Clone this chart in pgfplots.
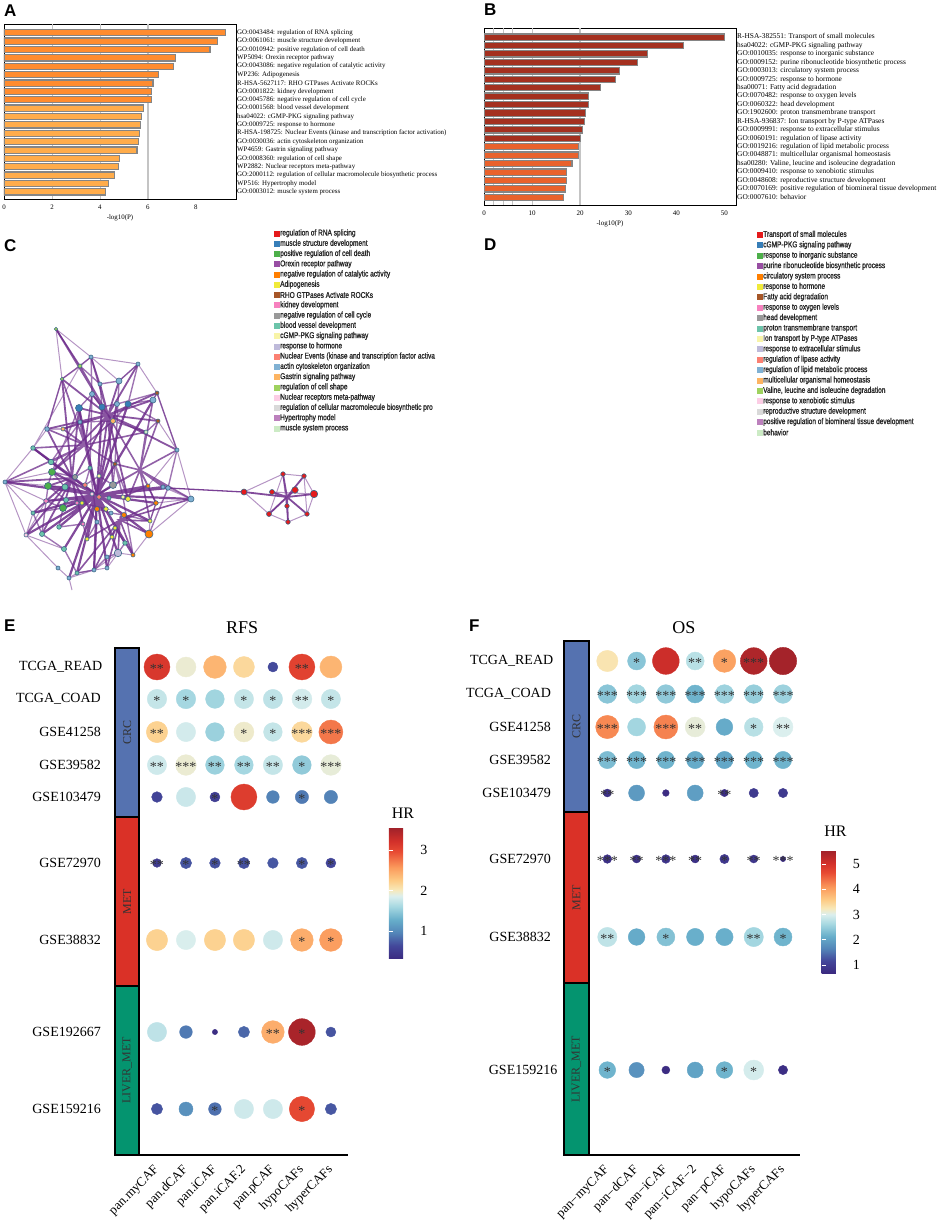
\documentclass[border=0pt]{standalone}
\usepackage{pgfplots}
\pgfplotsset{compat=1.18}
\usepackage{fontspec}
\setmainfont{Liberation Serif}
\newfontfamily\sansfont{Liberation Sans}
\newfontfamily\narrowfont[FakeStretch=0.78, FakeBold=1.2]{Liberation Sans}
\newcommand\fsz[1]{\fontsize{#1}{#1}\selectfont}

\definecolor{barAa}{HTML}{FF8C2F}
\definecolor{barAb}{HTML}{FFAC4B}
\definecolor{barBa}{HTML}{A4301F}
\definecolor{barBb}{HTML}{E9622C}
\definecolor{barline}{HTML}{858585}
\definecolor{gridc}{HTML}{C4C4C4}
\definecolor{edgep}{HTML}{6C2B8A}
\definecolor{nodeedge}{HTML}{3D6A88}
\definecolor{crc}{HTML}{5572B0}
\definecolor{met}{HTML}{DA3127}
\definecolor{liver}{HTML}{04946F}
\definecolor{startxt}{HTML}{333333}
\definecolor{legtext}{HTML}{282828}
% term colours (Set1 + Set3)
\definecolor{t0}{HTML}{E41A1C}
\definecolor{t1}{HTML}{377EB8}
\definecolor{t2}{HTML}{4DAF4A}
\definecolor{t3}{HTML}{984EA3}
\definecolor{t4}{HTML}{FF7F00}
\definecolor{t5}{HTML}{F0EA3A}
\definecolor{t6}{HTML}{A65628}
\definecolor{t7}{HTML}{F781BF}
\definecolor{t8}{HTML}{999999}
\definecolor{t9}{HTML}{6CC4AA}
\definecolor{t10}{HTML}{F8F4A8}
\definecolor{t11}{HTML}{BEBADA}
\definecolor{t12}{HTML}{FB8072}
\definecolor{t13}{HTML}{80B1D3}
\definecolor{t14}{HTML}{FDB462}
\definecolor{t15}{HTML}{9ED25E}
\definecolor{t16}{HTML}{FCCDE5}
\definecolor{t17}{HTML}{D9D9D9}
\definecolor{t18}{HTML}{BC80BD}
\definecolor{t19}{HTML}{CCEBC5}

\pgfplotsset{
  /pgf/number format/assume math mode=true,
  colormap={hrmap}{[1pt]
    rgb255(0pt)=(59,42,128) rgb255(10pt)=(67,71,154) rgb255(20pt)=(83,133,184)
    rgb255(30pt)=(103,174,202) rgb255(40pt)=(166,216,225) rgb255(48pt)=(220,239,238)
    rgb255(53pt)=(248,232,184) rgb255(60pt)=(253,203,133) rgb255(70pt)=(251,154,92)
    rgb255(82pt)=(232,75,51) rgb255(90pt)=(210,48,42) rgb255(100pt)=(161,34,42)},
  colormap={terms}{color=(t0) color=(t1) color=(t2) color=(t3) color=(t4)
    color=(t5) color=(t6) color=(t7) color=(t8) color=(t9) color=(t10)
    color=(t11) color=(t12) color=(t13) color=(t14) color=(t15) color=(t16)
    color=(t17) color=(t18) color=(t19)},
  barterm/.style={
    scale only axis, anchor=north west, y dir=reverse,
    axis line style={line width=0.9pt},
    ytick={1,...,20}, yticklabel pos=right, major tick length=0pt,
    yticklabel style={inner sep=1pt},
    xticklabel style={inner sep=1pt, yshift=-5pt},
    xlabel={-log10(P)},
  },
  dotpanel/.style={
    scale only axis, anchor=north west, clip=false,
    axis x line*=bottom, axis y line=none, axis line style={line width=1.1pt},
    xtick={0,...,6}, ytick=\empty, major tick length=0pt,
    xticklabel style={font=\fsz{13}, rotate=45, anchor=east, inner sep=0pt},
    xticklabel shift=13pt,
    colormap name=hrmap, colorbar,
  },
  cbar/.style={
    anchor=north west, scale only axis, axis x line=box, axis y line=box,
    axis line style={draw=none}, yticklabel style={font=\fsz{14}},
    major tick length=4pt, tick align=inside, ytick pos=both, yticklabel pos=right,
    tick style={white, line width=0.8pt},
    title={HR}, title style={at={(0.5,1)}, anchor=south, font=\fsz{16}},
  },
  termaxis/.style={scale only axis, anchor=north west, y dir=reverse, hide axis, clip=false,
    colormap name=terms, point meta min=0, point meta max=19},
  rowlab/.style={draw=none, nodes near coords, point meta=explicit symbolic,
    every node near coord/.style={anchor=east, inner sep=0pt, font=\fsz{14}}},
  grplab/.style={draw=none, nodes near coords, point meta=explicit symbolic,
    every node near coord/.style={anchor=center, rotate=90, inner sep=0pt, font=\fsz{12}, text=black!80}},
  dots/.style={scatter, only marks, mark=*, point meta=explicit,
    scatter/use mapped color={draw=mapped color, fill=mapped color},
    visualization depends on={\thisrow{d}/2 \as \rad},
    scatter/@pre marker code/.append style={/tikz/mark size=\rad}},
  stars/.style={draw=none, nodes near coords, point meta=explicit symbolic,
    every node near coord/.style={anchor=base, yshift=-6pt, inner sep=0pt, font=\fsz{14}, text=startxt}},
  legsq/.style={scatter, only marks, mark=square*, mark size=2.5pt, point meta=explicit,
    scatter/use mapped color={draw=mapped color, fill=mapped color}},
  legtx/.style={draw=none, nodes near coords, point meta=explicit symbolic,
    every node near coord/.style={anchor=west, inner sep=0pt, font=\narrowfont\fsz{8.4}, text=legtext}},
}

\begin{document}
\begin{tikzpicture}[x=1pt,y=1pt]
\useasboundingbox (0,0) rectangle (941,-1228);

\node[anchor=north west, inner sep=0pt, font=\sansfont\bfseries\fsz{17}] at (4,-5) {A};
\node[anchor=north west, inner sep=0pt, font=\sansfont\bfseries\fsz{17}] at (484,-4) {B};
\node[anchor=north west, inner sep=0pt, font=\sansfont\bfseries\fsz{17}] at (4,-239) {C};
\node[anchor=north west, inner sep=0pt, font=\sansfont\bfseries\fsz{17}] at (484,-239) {D};
\node[anchor=north west, inner sep=0pt, font=\sansfont\bfseries\fsz{17}] at (4,-620) {E};
\node[anchor=north west, inner sep=0pt, font=\sansfont\bfseries\fsz{17}] at (469,-620) {F};

% ---------------- A: enrichment bars ----------------
\begin{axis}[barterm,
  at={(4pt,-24pt)}, width=232pt, height=175pt,
  xmin=0, xmax=9.67, ymin=-0.05, ymax=20.85,
  xtick={0,2,4,6,8},
  tick label style={font=\fsz{6.9}}, xlabel style={font=\fsz{6.9}},
  yticklabels={GO:0043484: regulation of RNA splicing,
    GO:0061061: muscle structure development,
    GO:0010942: positive regulation of cell death,
    WP5094: Orexin receptor pathway,
    GO:0043086: negative regulation of catalytic activity,
    WP236: Adipogenesis,
    R-HSA-5627117: RHO GTPases Activate ROCKs,
    GO:0001822: kidney development,
    GO:0045786: negative regulation of cell cycle,
    GO:0001568: blood vessel development,
    hsa04022: cGMP-PKG signaling pathway,
    GO:0009725: response to hormone,
    R-HSA-198725: Nuclear Events (kinase and transcription factor activation),
    GO:0030036: actin cytoskeleton organization,
    WP4659: Gastrin signaling pathway,
    GO:0008360: regulation of cell shape,
    WP2882: Nuclear receptors meta-pathway,
    GO:2000112: regulation of cellular macromolecule biosynthetic process,
    WP516: Hypertrophy model,
    GO:0003012: muscle system process},
]
\addplot[gridc, line width=0.8pt] coordinates {(2,-0.05) (2,20.85)};
\addplot[gridc, line width=0.8pt] coordinates {(4,-0.05) (4,20.85)};
\addplot[gridc, line width=1.8pt] coordinates {(6,-0.05) (6,20.85)};
\addplot[xbar, bar shift=0pt, bar width=0.74, fill=barAa, draw=barline, line width=1.2pt]
  coordinates {(9.22,1) (8.90,2) (8.59,3) (7.15,4) (7.08,5) (6.43,6) (6.21,7) (6.15,8) (6.14,9)};
\addplot[xbar, bar shift=0pt, bar width=0.74, fill=barAb, draw=barline, line width=1.2pt]
  coordinates {(5.83,10) (5.72,11) (5.69,12) (5.65,13) (5.59,14) (5.54,15) (4.81,16) (4.78,17) (4.59,18) (4.34,19) (4.24,20)};
\end{axis}

% ---------------- B: enrichment bars ----------------
\begin{axis}[barterm,
  at={(484pt,-28pt)}, width=252pt, height=177pt,
  xmin=0, xmax=52.4, ymin=-0.07, ymax=20.9,
  xtick={0,10,20,30,40,50},
  tick label style={font=\fsz{7}}, yticklabel style={font=\fsz{7.4}}, xlabel style={font=\fsz{7}},
  yticklabels={R-HSA-382551: Transport of small molecules,
    hsa04022: cGMP-PKG signaling pathway,
    GO:0010035: response to inorganic substance,
    GO:0009152: purine ribonucleotide biosynthetic process,
    GO:0003013: circulatory system process,
    GO:0009725: response to hormone,
    hsa00071: Fatty acid degradation,
    GO:0070482: response to oxygen levels,
    GO:0060322: head development,
    GO:1902600: proton transmembrane transport,
    R-HSA-936837: Ion transport by P-type ATPases,
    GO:0009991: response to extracellular stimulus,
    GO:0060191: regulation of lipase activity,
    GO:0019216: regulation of lipid metabolic process,
    GO:0048871: multicellular organismal homeostasis,
    {hsa00280: Valine, leucine and isoleucine degradation},
    GO:0009410: response to xenobiotic stimulus,
    GO:0048608: reproductive structure development,
    GO:0070169: positive regulation of biomineral tissue development,
    GO:0007610: behavior},
]
\addplot[gridc, line width=0.8pt] coordinates {(2,-0.07) (2,20.9)};
\addplot[gridc, line width=0.8pt] coordinates {(4,-0.07) (4,20.9)};
\addplot[gridc, line width=0.8pt] coordinates {(6,-0.07) (6,20.9)};
\addplot[gridc, line width=0.8pt] coordinates {(10,-0.07) (10,20.9)};
\addplot[gridc, line width=1.8pt] coordinates {(20,-0.07) (20,20.9)};
\addplot[xbar, bar shift=0pt, bar width=0.74, fill=barBa, draw=barline, line width=1.2pt]
  coordinates {(50.0,1) (41.5,2) (34.0,3) (31.9,4) (28.1,5) (27.4,6) (24.2,7) (21.8,8) (21.7,9) (21.1,10) (20.9,11) (20.5,12) (20.1,13)};
\addplot[xbar, bar shift=0pt, bar width=0.74, fill=barBb, draw=barline, line width=1.2pt]
  coordinates {(19.7,14) (19.6,15) (18.3,16) (17.2,17) (17.1,18) (17.0,19) (16.5,20)};
\end{axis}

% ---------------- C: network + legend ----------------
\begin{axis}[termaxis, at={(0pt,-225pt)}, width=470pt, height=365pt,
  xmin=0, xmax=470, ymin=225, ymax=590, unbounded coords=jump]
% faint outer edges
\addplot[edgep, line width=1.0pt, opacity=0.5] coordinates {
  (5,482) (33,448) (47,429) (62,379) (56,329) (91,357) (138,364) (157,393) (177,450) (191,499)
  (149,534) (133,555) (118,553) (94,570) (69,578) (58,568) (26,535) (5,482) (nan,nan)
  (56,329) (80,366) (nan,nan) (91,357) (62,379) (nan,nan) (138,364) (119,381) (nan,nan)
  (177,450) (148,486) (nan,nan) (5,482) (52,472) (nan,nan) (26,535) (64,549) (nan,nan)
  (33,448) (80,366) (nan,nan) (177,450) (158,421) (nan,nan) (191,499) (163,487) (nan,nan)
  (5,482) (46,501) (26,535) (nan,nan) (56,329) (62,379) (nan,nan) (138,364) (157,393) (153,400) (nan,nan)
  (191,499) (156,503) (150,521) (149,534) (nan,nan) (69,578) (77,573) (94,570) (107,568) (118,553)
  (nan,nan) (33,448) (5,482) (33,513) (26,535) (nan,nan) (91,357) (119,381) (138,364) (nan,nan)
  (69,578) (72,590) (nan,nan) (177,450) (191,499) (168,488) (nan,nan) (5,482) (65,487)};
% web of neighbour links
\addplot[edgep, line width=1.4pt, opacity=0.65] coordinates {
  (33,513) (63,508) (46,501) (66,500) (48,486) (65,487) (52,472) (75,477) (90,468) (85,485)
  (99,476) (113,485) (115,464) (128,499) (123,497) (148,486) (156,503) (150,521) (124,515) (111,513)
  (97,509) (106,509) (82,503) (77,503) (63,508) (59,527) (83,524) (87,539) (97,522) (112,537)
  (115,528) (125,543) (118,553) (107,557) (94,570) (77,573) (64,549) (42,534) (33,513) (nan,nan)
  (56,329) (80,366) (91,357) (100,384) (119,381) (138,364) (128,404) (153,400) (157,393) (117,404)
  (102,407) (92,394) (79,408) (80,422) (63,429) (47,429) (62,379) (80,366) (100,384) (102,407)
  (113,421) (146,432) (158,421) (128,404) (113,421) (80,422) (51,462) (33,448) (nan,nan)
  (119,381) (115,464) (123,497) (133,555) (nan,nan) (79,408) (52,472) (48,486) (42,534) (nan,nan)
  (157,393) (177,450) (168,488) (149,534) (nan,nan) (91,357) (92,394) (90,468) (97,522) (94,570)};
% central hub
\addplot[edgep, line width=2.2pt, opacity=0.85] coordinates {
  (97,495) (52,472) (97,495) (48,486) (97,495) (63,508) (97,495) (66,500) (97,495) (46,501)
  (97,495) (33,513) (97,495) (42,534) (97,495) (59,527) (97,495) (64,549) (97,495) (77,573)
  (97,495) (69,578) (97,495) (94,570) (97,495) (107,568) (97,495) (118,553) (97,495) (133,555)
  (97,495) (149,534) (97,495) (150,521) (97,495) (156,503) (97,495) (148,486) (97,495) (163,487)
  (97,495) (168,488) (97,495) (191,499) (97,495) (124,515) (97,495) (128,499) (97,495) (113,485)
  (97,495) (115,464) (97,495) (90,468) (97,495) (65,487) (97,495) (33,448) (97,495) (51,462)
  (97,495) (99,476) (97,495) (113,421) (97,495) (79,408) (97,495) (102,407) (97,495) (128,404)
  (97,495) (153,400) (97,495) (117,404) (97,495) (87,539) (97,495) (112,537) (97,495) (125,543)
  (97,495) (26,535) (97,495) (5,482)};
% upper hub
\addplot[edgep, line width=1.8pt, opacity=0.8] coordinates {
  (108,415) (91,357) (108,415) (119,381) (108,415) (100,384) (108,415) (138,364) (108,415) (157,393)
  (108,415) (92,394) (108,415) (80,366) (108,415) (62,379) (108,415) (158,421) (108,415) (146,432)
  (108,415) (80,422) (108,415) (47,429) (108,415) (63,429) (108,415) (177,450) (108,415) (52,472)
  (108,415) (113,485) (108,415) (75,477) (108,415) (128,499) (108,415) (153,400) (108,415) (79,408)
  (108,415) (56,329) (108,415) (97,495)};
% left hub
\addplot[edgep, line width=1.8pt, opacity=0.8] coordinates {
  (72,478) (5,482) (72,478) (33,448) (72,478) (47,429) (72,478) (51,462) (72,478) (48,486)
  (72,478) (26,535) (72,478) (42,534) (72,478) (33,513) (72,478) (63,508) (72,478) (97,522)
  (72,478) (83,524) (72,478) (46,501) (72,478) (77,503) (72,478) (79,408) (72,478) (62,379)
  (72,478) (97,495)};
% upper-left hub
\addplot[edgep, line width=1.6pt, opacity=0.75] coordinates {
  (85,445) (33,448) (85,445) (47,429) (85,445) (63,429) (85,445) (80,422) (85,445) (79,408)
  (85,445) (92,394) (85,445) (62,379) (85,445) (51,462) (85,445) (52,472) (85,445) (90,468)
  (85,445) (115,464) (85,445) (113,421) (85,445) (146,432) (85,445) (5,482) (85,445) (97,495)};
% right hub
\addplot[edgep, line width=1.6pt, opacity=0.75] coordinates {
  (140,470) (177,450) (140,470) (191,499) (140,470) (163,487) (140,470) (168,488) (140,470) (148,486)
  (140,470) (156,503) (140,470) (146,432) (140,470) (158,421) (140,470) (153,400) (140,470) (115,464)
  (140,470) (113,485) (140,470) (128,499) (140,470) (150,521) (140,470) (97,495) (140,470) (108,415)};
% lower hub
\addplot[edgep, line width=1.6pt, opacity=0.8] coordinates {
  (120,520) (149,534) (120,520) (150,521) (120,520) (133,555) (120,520) (118,553) (120,520) (107,568)
  (120,520) (115,528) (120,520) (156,503) (120,520) (191,499) (120,520) (94,570) (120,520) (87,539)
  (120,520) (77,573) (120,520) (112,537)};
% bridge
\addplot[edgep, line width=1.3pt, opacity=0.9] coordinates {(168,488) (244,492)};
% small cluster
\addplot[edgep, line width=1.0pt, opacity=0.5] coordinates {
  (244,492) (283,474) (304,476) (314,494) (307,514) (288,522) (269,514) (244,492) (nan,nan)
  (272,492) (314,494) (nan,nan) (283,474) (288,522) (nan,nan) (295,490) (269,514) (nan,nan)
  (304,476) (307,514) (nan,nan) (283,474) (269,514)};
\addplot[edgep, line width=1.8pt, opacity=0.85] coordinates {
  (287,497) (244,492) (287,497) (283,474) (287,497) (304,476) (287,497) (272,492) (287,497) (295,490)
  (287,497) (314,494) (287,497) (287,506) (287,497) (269,514) (287,497) (307,514) (287,497) (288,522)};
% nodes
\addplot[legsq, mark=*, scatter/use mapped color={draw=nodeedge, fill=mapped color},
  mark options={line width=0.6pt},
  visualization depends on={\thisrow{d}/2 \as \rad},
  scatter/@pre marker code/.append style={/tikz/mark size=\rad}]
  table[x=x, y=y, meta=c] {
x y c d
56 329 15 3.5
91 357 13 4
80 366 15 4
138 364 13 4
62 379 15 3.5
119 381 13 6
100 384 13 4
157 393 6 4
153 400 13 6
92 394 13 5
79 408 1 7
102 407 1 6
117 404 13 5
128 404 1 6
158 421 6 4
113 421 14 5
80 422 13 4
47 429 13 4.5
63 429 14 4
146 432 19 4
33 448 9 4.5
177 450 13 4
51 462 9 5.5
52 472 2 7
115 464 6 4
90 468 9 4
5 482 13 4
48 486 2 7
75 477 8 5
99 476 10 4
113 485 8 7
65 487 9 6
85 485 12 4.5
148 486 4 4
163 487 13 4
168 488 13 4.5
191 499 13 6
46 501 7 4.5
66 500 9 5
77 503 7 4
92 494 16 4
99 497 12 4.5
109 498 9 4
123 497 10 4
128 499 5 5
156 503 4 4.5
63 508 2 7
97 509 4 5
106 509 5 4.5
82 503 5 4
33 513 9 4
124 515 4 5
111 513 13 4
150 521 5 4
59 527 9 4.5
83 524 7 4
97 522 13 4
115 528 5 4
42 534 9 5
26 535 16 4
149 534 4 8
87 539 5 4
112 537 5 4
125 543 9 4.5
64 549 9 5
118 553 11 7.5
133 555 4 4
107 557 13 4
58 568 13 4
77 573 9 4
107 568 13 4
94 570 13 4
69 578 13 4
244 492 0 6
283 474 0 4.5
304 476 0 4.5
272 492 0 5
295 490 0 6.5
314 494 0 7.5
287 506 0 4.5
269 514 0 5
307 514 0 4.5
288 522 0 4.5
};
% legend
\addplot[legsq] table[x=x, y=y, meta=c] {
x y c
276.3 233.3 0
276.3 243.6 1
276.3 253.8 2
276.3 264.1 3
276.3 274.3 4
276.3 284.6 5
276.3 294.9 6
276.3 305.1 7
276.3 315.4 8
276.3 325.6 9
276.3 335.9 10
276.3 346.2 11
276.3 356.4 12
276.3 366.7 13
276.3 376.9 14
276.3 387.2 15
276.3 397.5 16
276.3 407.7 17
276.3 418.0 18
276.3 428.2 19
};
\addplot[legtx] table[col sep=semicolon, x=x, y=y, meta=t] {
x;y;t
280;233.3;regulation of RNA splicing
280;243.6;muscle structure development
280;253.8;positive regulation of cell death
280;264.1;Orexin receptor pathway
280;274.3;negative regulation of catalytic activity
280;284.6;Adipogenesis
280;294.9;RHO GTPases Activate ROCKs
280;305.1;kidney development
280;315.4;negative regulation of cell cycle
280;325.6;blood vessel development
280;335.9;cGMP-PKG signaling pathway
280;346.2;response to hormone
280;356.4;Nuclear Events (kinase and transcription factor activa
280;366.7;actin cytoskeleton organization
280;376.9;Gastrin signaling pathway
280;387.2;regulation of cell shape
280;397.5;Nuclear receptors meta-pathway
280;407.7;regulation of cellular macromolecule biosynthetic pro
280;418.0;Hypertrophy model
280;428.2;muscle system process
};
\end{axis}

% ---------------- D: legend only ----------------
\begin{axis}[termaxis, at={(470pt,-225pt)}, width=471pt, height=215pt,
  xmin=470, xmax=941, ymin=225, ymax=440]
\addplot[legsq] table[x=x, y=y, meta=c] {
x y c
759.7 234.7 0
759.7 245.1 1
759.7 255.5 2
759.7 265.9 3
759.7 276.3 4
759.7 286.7 5
759.7 297.1 6
759.7 307.5 7
759.7 317.9 8
759.7 328.3 9
759.7 338.7 10
759.7 349.1 11
759.7 359.5 12
759.7 369.9 13
759.7 380.3 14
759.7 390.7 15
759.7 401.1 16
759.7 411.5 17
759.7 421.9 18
759.7 432.3 19
};
\addplot[legtx] table[col sep=semicolon, x=x, y=y, meta=t] {
x;y;t
763;234.7;Transport of small molecules
763;245.1;cGMP-PKG signaling pathway
763;255.5;response to inorganic substance
763;265.9;purine ribonucleotide biosynthetic process
763;276.3;circulatory system process
763;286.7;response to hormone
763;297.1;Fatty acid degradation
763;307.5;response to oxygen levels
763;317.9;head development
763;328.3;proton transmembrane transport
763;338.7;Ion transport by P-type ATPases
763;349.1;response to extracellular stimulus
763;359.5;regulation of lipase activity
763;369.9;regulation of lipid metabolic process
763;380.3;multicellular organismal homeostasis
763;390.7;Valine, leucine and isoleucine degradation
763;401.1;response to xenobiotic stimulus
763;411.5;reproductive structure development
763;421.9;positive regulation of biomineral tissue development
763;432.3;behavior
};
\end{axis}

% ---------------- E: RFS ----------------
\begin{axis}[dotpanel,
  at={(139pt,-648pt)}, width=209pt, height=507pt,
  xmin=-0.62, xmax=6.59, ymin=0, ymax=507,
  xticklabels={pan.myCAF,pan.dCAF,pan.iCAF,pan.iCAF.2,pan.pCAF,hypoCAFs,hyperCAFs},
  title={RFS}, title style={at={(0.493,1.041)}, anchor=center, yshift=-6pt, font=\fsz{18}},
  point meta min=0.31, point meta max=3.55,
  colorbar style={cbar, at={(1.196,0.645)}, width=28pt, height=131pt, ytick={1,2,3},
    title style={yshift=0pt}},
]
\addplot[fill=crc, draw=black, line width=2pt] coordinates {(-1.45,338) (-0.62,338) (-0.62,507) (-1.45,507)} -- cycle;
\addplot[fill=met, draw=black, line width=2pt] coordinates {(-1.45,169) (-0.62,169) (-0.62,338) (-1.45,338)} -- cycle;
\addplot[fill=liver, draw=black, line width=2pt] coordinates {(-1.45,0) (-0.62,0) (-0.62,169) (-1.45,169)} -- cycle;
\addplot[grplab] table[meta=g] {
x y g
-1.03 422.5 CRC
-1.03 253.5 MET
-1.03 84.5 LIVER\_MET
};
\addplot[rowlab] table[meta=n] {
x y n
-1.88 488 TCGA\_READ
-1.93 456 TCGA\_COAD
-1.93 423 GSE41258
-1.93 390 GSE39582
-1.93 358 GSE103479
-1.93 292 GSE72970
-1.93 215 GSE38832
-1.93 123 GSE192667
-1.93 46 GSE159216
};
\addplot[dots] table[x=x, y=y, meta=hr] {
x y hr d
0 488 3.15 26
1 488 1.95 20
2 488 2.40 22.7
3 488 2.15 21
4 488 0.65 10
5 488 3.05 26
6 488 2.40 22
0 456 1.75 19.5
1 456 1.60 19.5
2 456 1.58 18.7
3 456 1.75 19.3
4 456 1.72 19.3
5 456 1.82 20
6 456 1.75 19.3
0 423 2.20 21.3
1 423 1.82 19.3
2 423 1.55 18.7
3 423 1.97 20
4 423 1.75 18.7
5 423 2.15 20.7
6 423 2.75 24
0 390 1.80 19.3
1 390 1.95 20.7
2 390 1.55 18.7
3 390 1.60 18.7
4 390 1.75 19.3
5 390 1.50 18.7
6 390 1.93 20.7
0 358 0.60 10.7
1 358 1.78 19.3
2 358 0.55 10
3 358 3.10 26
4 358 0.95 12.7
5 358 0.90 13.3
6 358 0.95 13.3
0 292 0.50 8.7
1 292 0.70 11.3
2 292 0.68 10.7
3 292 0.68 11.3
4 292 0.72 10.7
5 292 0.72 11.3
6 292 0.62 10
0 215 2.20 21.3
1 215 1.85 19.3
2 215 2.20 21.3
3 215 2.20 21.3
4 215 1.80 19.3
5 215 2.45 22.7
6 215 2.55 22.7
0 123 1.72 19.3
1 123 0.90 12.7
2 123 0.35 5.3
3 123 0.80 11.3
4 123 2.45 22.7
5 123 3.50 26.7
6 123 0.70 10
0 46 0.70 11.3
1 46 1.05 14
2 46 0.85 12.7
3 46 1.80 19.3
4 46 1.80 19.3
5 46 3.00 25.3
6 46 0.72 11.3
};
\addplot[stars] table[meta=s] {
x y s
0 488 **
5 488 **
0 456 *
1 456 *
3 456 *
4 456 *
5 456 **
6 456 *
0 423 **
3 423 *
4 423 *
5 423 ***
6 423 ***
0 390 **
1 390 ***
2 390 **
3 390 **
4 390 **
5 390 *
6 390 ***
2 358 *
5 358 *
0 292 **
1 292 *
2 292 *
3 292 **
5 292 *
6 292 *
5 215 *
6 215 *
4 123 **
5 123 *
2 46 *
5 46 *
};
\end{axis}

% ---------------- F: OS ----------------
\begin{axis}[dotpanel,
  at={(589pt,-641pt)}, width=211pt, height=514pt,
  xmin=-0.625, xmax=6.58, ymin=0, ymax=514,
  xticklabels={pan−myCAF,pan−dCAF,pan−iCAF,pan−iCAF−2,pan−pCAF,hypoCAFs,hyperCAFs},
  title={OS}, title style={at={(0.450,1.027)}, anchor=center, yshift=-6pt, font=\fsz{18}},
  point meta min=0.68, point meta max=5.53,
  colorbar style={cbar, at={(1.103,0.592)}, width=27.6pt, height=122.3pt, ytick={1,2,3,4,5},
    title style={yshift=5pt}},
]
\addplot[fill=crc, draw=black, line width=2pt] coordinates {(-1.48,343) (-0.625,343) (-0.625,514) (-1.48,514)} -- cycle;
\addplot[fill=met, draw=black, line width=2pt] coordinates {(-1.48,172) (-0.625,172) (-0.625,343) (-1.48,343)} -- cycle;
\addplot[fill=liver, draw=black, line width=2pt] coordinates {(-1.48,0) (-0.625,0) (-0.625,172) (-1.48,172)} -- cycle;
\addplot[grplab] table[meta=g] {
x y g
-1.05 428.5 CRC
-1.05 257.5 MET
-1.05 86 LIVER\_MET
};
\addplot[rowlab] table[meta=n] {
x y n
-1.84 494 TCGA\_READ
-1.92 461 TCGA\_COAD
-1.92 428 GSE41258
-1.92 395 GSE39582
-1.92 362 GSE103479
-1.92 296 GSE72970
-1.92 218 GSE38832
-1.70 85 GSE159216
};
\addplot[dots] table[x=x, y=y, meta=hr] {
x y hr d
0 494 3.30 21.3
1 494 2.40 18
2 494 5.10 26.7
3 494 2.75 18
4 494 4.00 22.7
5 494 5.40 26.7
6 494 5.50 27.3
0 461 2.40 18.7
1 461 2.60 18.7
2 461 2.45 18.7
3 461 2.20 18
4 461 2.55 18.7
5 461 2.50 18.7
6 461 2.55 18.7
0 428 4.20 23.3
1 428 2.60 18
2 428 4.25 24
3 428 3.10 20
4 428 2.10 16.7
5 428 2.75 18.7
6 428 3.00 20
0 395 2.30 17.3
1 395 2.20 17.3
2 395 2.20 17.3
3 395 2.10 17.3
4 395 2.05 17.3
5 395 2.20 17.3
6 395 2.20 17.3
0 362 0.80 8
1 362 1.90 16
2 362 0.72 6.7
3 362 1.95 16
4 362 0.75 7.3
5 362 0.95 9.3
6 362 0.95 9.3
0 296 0.80 8.7
1 296 0.80 8
2 296 0.85 8.7
3 296 0.80 8
4 296 0.90 9.3
5 296 0.90 8
6 296 0.70 5.3
0 218 2.80 19.3
1 218 2.10 16.7
2 218 2.35 18
3 218 2.15 17.3
4 218 2.15 17.3
5 218 2.60 19.3
6 218 2.20 18
0 85 2.20 16.7
1 85 1.80 15.3
2 85 0.72 8
3 85 2.00 16
4 85 2.20 16.7
5 85 2.95 20
6 85 0.75 9.3
};
\addplot[stars] table[meta=s] {
x y s
1 494 *
3 494 **
4 494 *
5 494 ***
0 461 ***
1 461 ***
2 461 ***
3 461 ***
4 461 ***
5 461 ***
6 461 ***
0 428 ***
2 428 ***
3 428 **
5 428 *
6 428 **
0 395 ***
1 395 ***
2 395 ***
3 395 ***
4 395 ***
5 395 ***
6 395 ***
0 362 **
4 362 **
0 296 ***
1 296 **
2 296 ***
3 296 **
4 296 *
5 296 **
6 296 ***
0 218 **
2 218 *
5 218 **
6 218 *
0 85 *
4 85 *
5 85 *
};
\end{axis}
\end{tikzpicture}
\end{document}
